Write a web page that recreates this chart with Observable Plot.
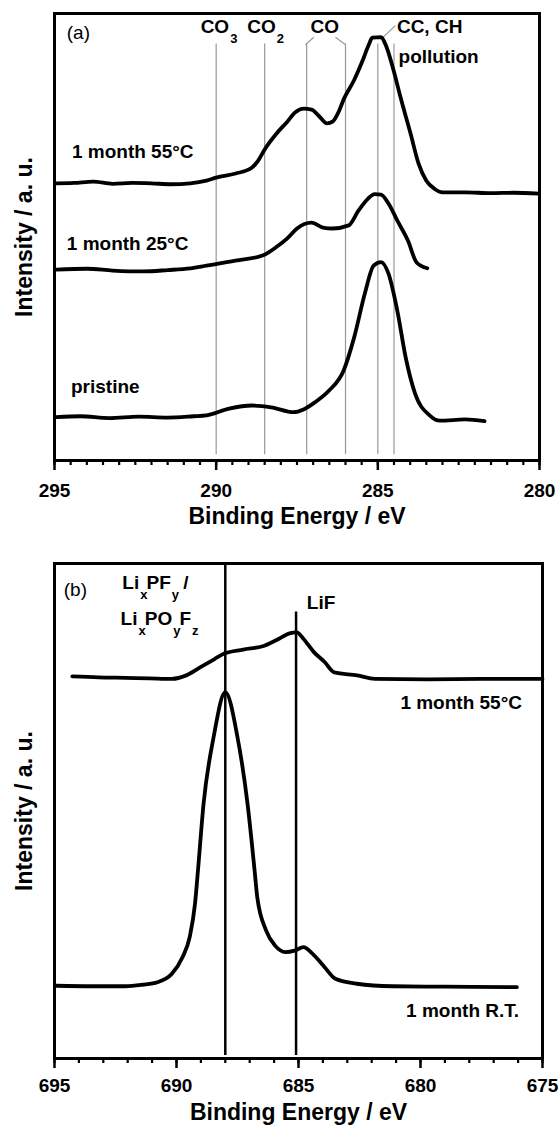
<!DOCTYPE html>
<html>
<head>
<meta charset="utf-8">
<script src="https://cdn.jsdelivr.net/npm/d3@7"></script>
<script src="https://cdn.jsdelivr.net/npm/@observablehq/plot@0.6"></script>
<style>
  html, body { margin: 0; padding: 0; background: #fff; }
  #chart svg { display: block; }
</style>
</head>
<body>
<div id="chart"></div>
<script>
// ---------- Panel (a): C 1s ----------
const c1s_55C = [[294.95,62.0],[294.4,62.1],[293.8,62.4],[293.2,61.9],[292.6,62.1],[292.0,62.0],[291.4,61.8],[290.8,62.0],[290.3,62.6],[290.0,63.3],[289.4,64.2],[288.9,65.5],[288.7,67.1],[288.5,69.6],[288.15,73.0],[287.8,75.8],[287.55,77.9],[287.3,78.7],[287.05,78.5],[286.8,76.9],[286.57,75.4],[286.4,75.8],[286.2,78.2],[286.05,80.9],[285.74,85.0],[285.48,89.3],[285.28,93.0],[285.17,94.6],[284.9,94.7],[284.77,93.2],[284.51,87.2],[284.3,81.3],[283.99,73.2],[283.74,66.4],[283.5,62.6],[283.25,60.8],[283.0,60.0],[282.3,60.0],[281.5,59.8],[280.8,59.9],[280.03,59.7]];
const c1s_25C = [[294.95,42.7],[294.0,42.9],[293.2,42.5],[292.25,42.3],[291.5,42.6],[290.8,43.0],[290.3,43.6],[289.4,44.7],[288.55,45.9],[288.15,47.7],[287.8,49.7],[287.5,51.9],[287.05,53.2],[286.7,52.1],[286.4,51.9],[285.9,52.6],[285.6,55.9],[285.3,58.6],[285.1,59.6],[284.9,59.5],[284.67,57.5],[284.4,53.7],[284.07,49.2],[283.8,44.3],[283.47,43.0]];
const c1s_pristine = [[294.95,9.7],[294.2,9.9],[293.3,9.5],[292.4,9.8],[291.5,9.6],[290.7,9.9],[290.3,10.1],[289.6,11.6],[288.9,12.3],[288.3,11.9],[287.6,10.8],[287.3,11.4],[286.95,13.0],[286.5,15.7],[286.06,20.1],[285.73,27.6],[285.4,37.4],[285.13,43.6],[284.9,44.4],[284.67,41.8],[284.4,33.6],[284.14,23.1],[283.85,15.0],[283.4,10.1],[283.08,8.9],[282.3,9.2],[281.7,8.8]];
const seriesNamesA = ["1 month 55°C", "1 month 25°C", "pristine"];
const seriesPtsA = [c1s_55C, c1s_25C, c1s_pristine];

const refLinesA = [290, 288.5, 287.2, 286.0, 285.0, 284.5];
const leadersA = [
  {x1: 287.24, y1: 93.0, x2: 286.98, y2: 94.7},
  {x1: 286.31, y1: 94.7, x2: 286.0, y2: 93.0},
  {x1: 284.85, y1: 94.6, x2: 284.46, y2: 97.3}
];
const peakLabelsA = ["CO_{3}", "CO_{2}", "CO", "CC, CH", "pollution"];
const peakLabelEA = [290.48, 289.04, 287.08, 284.41, 284.36];
const peakLabelIA = [95.7, 95.7, 95.7, 95.7, 89.0];
const seriesLabelEA = [294.46, 294.62, 294.49];
const seriesLabelIA = [67.6, 47.0, 15.0];
const majorTicksA = [295, 290, 285, 280];
const minorTicksA = d3.range(280, 295.001, 0.5);

// ---------- Panel (b): F 1s ----------
const f1s_55C = [[694.27,77.2],[693.2,77.0],[692.08,76.9],[691.1,76.8],[690.19,76.7],[689.6,77.4],[689.0,79.1],[688.44,80.7],[688.04,81.8],[687.27,82.6],[686.4,83.4],[685.8,84.8],[685.37,85.9],[685.07,86.1],[684.8,84.8],[684.37,82.1],[683.93,80.1],[683.53,78.0],[682.6,77.4],[681.87,76.7],[679.7,76.6],[677.5,76.7],[675.0,76.7]];
const f1s_RT = [[694.93,14.7],[693.5,14.6],[692.09,14.6],[691.4,14.9],[690.78,15.4],[690.19,17.1],[689.75,20.5],[689.46,24.5],[689.24,31.3],[689.12,38.0],[688.89,51.5],[688.48,64.9],[688.0,74.0],[687.5,64.9],[687.09,51.5],[686.8,38.0],[686.69,32.6],[686.33,25.9],[685.96,22.8],[685.53,21.5],[685.16,21.8],[684.8,22.5],[684.43,21.2],[683.92,18.4],[683.49,16.1],[682.61,15.1],[681.15,14.6],[679.0,14.5],[676.05,14.4]];
const seriesNamesB = ["1 month 55°C", "1 month R.T."];
const seriesPtsB = [f1s_55C, f1s_RT];

const refLinesB = [688.0, 685.1];
const refTopB = [100, 90.2];
const peakLabelsB = ["Li_{x}PF_{y} /", "Li_{x}PO_{y}F_{z}", "LiF"];
const peakLabelEB = [692.22, 692.29, 684.66];
const peakLabelIB = [94.9, 87.5, 90.9];
const seriesLabelEB = [675.84, 675.96];
const seriesLabelIB = [70.7, 8.3];
const majorTicksB = [695, 690, 685, 680, 675];
const minorTicksB = d3.range(675, 695.001, 1);

// ---------- helpers ----------
const FONT = "'Liberation Sans', Arial, Helvetica, sans-serif";
const toRows = (names, pts) => names.flatMap((s, i) => pts[i].map(([E, I]) => ({s, E, I})));
const labelRows = (texts, E, I) => texts.map((t, i) => ({t, E: E[i], I: I[i]}));

function applySubs(svg) {
  const NS = "http://www.w3.org/2000/svg";
  svg.querySelectorAll("text").forEach(t => {
    const s = t.textContent;
    if (!s.includes("_{")) return;
    t.textContent = "";
    const re = /_\{([^}]*)\}/g;
    let last = 0, m, inSub = false;
    const add = (str, sub) => {
      const ts = document.createElementNS(NS, "tspan");
      if (sub) { ts.setAttribute("dy", "10"); ts.setAttribute("font-size", "13"); ts.setAttribute("dx", "1"); }
      else if (inSub) { ts.setAttribute("dy", "-10"); ts.setAttribute("dx", "-1"); }
      ts.textContent = str;
      t.appendChild(ts);
      inSub = sub;
    };
    while ((m = re.exec(s))) {
      if (m.index > last) add(s.slice(last, m.index), false);
      add(m[1], true);
      last = re.lastIndex;
    }
    if (last < s.length) add(s.slice(last), false);
  });
}

function panel({height, marginTop, marginBottom, marginRight, xDomain, rows, minor, major, tickPadding, titleDy, marks}) {
  return Plot.plot({
    width: 560, height, marginLeft: 54, marginRight, marginTop, marginBottom,
    x: {domain: xDomain, axis: null},
    y: {domain: [0, 100], axis: null},
    style: {fontFamily: FONT, background: "#fff", color: "#000", overflow: "visible"},
    marks: [
      ...marks,
      Plot.line(rows, {x: "E", y: "I", z: "s", stroke: "#000", strokeWidth: 3.8, curve: "monotone-x", strokeLinejoin: "round", strokeLinecap: "round"}),
      Plot.frame({stroke: "#000", strokeWidth: 3}),
      Plot.axisX({ticks: minor, tickSize: 5, strokeWidth: 2.2, tickFormat: () => "", label: null}),
      Plot.axisX({ticks: major, tickSize: 10, strokeWidth: 2.5, tickPadding, tickFormat: d3.format("d"), fontSize: 19, fontWeight: "bold", label: null}),
      Plot.text(["Binding Energy / eV"], {frameAnchor: "bottom", dy: titleDy, lineAnchor: "bottom", fontSize: 23, fontWeight: "bold"}),
      Plot.text(["Intensity / a. u."], {frameAnchor: "left", textAnchor: "middle", rotate: -90, dx: -30, fontSize: 23, fontWeight: "bold"})
    ]
  });
}

const plotA = panel({
  height: 545, marginTop: 13, marginBottom: 85, marginRight: 21,
  xDomain: [295, 280], rows: toRows(seriesNamesA, seriesPtsA),
  minor: minorTicksA, major: majorTicksA, tickPadding: 13, titleDy: 63,
  marks: [
    Plot.ruleX(refLinesA, {y1: 1.3, y2: 93.2, stroke: "#999", strokeWidth: 1.2}),
    Plot.link(leadersA, {x1: "x1", y1: "y1", x2: "x2", y2: "y2", stroke: "#999", strokeWidth: 1.2}),
    Plot.text(labelRows(peakLabelsA, peakLabelEA, peakLabelIA), {x: "E", y: "I", text: "t", textAnchor: "start", lineAnchor: "bottom", fontSize: 19, fontWeight: "bold"}),
    Plot.text(labelRows(seriesNamesA, seriesLabelEA, seriesLabelIA), {x: "E", y: "I", text: "t", textAnchor: "start", lineAnchor: "bottom", fontSize: 19, fontWeight: "bold"}),
    Plot.text(["(a)"], {x: 294.62, y: 94.4, textAnchor: "start", lineAnchor: "bottom", fontSize: 19})
  ]
});

const plotB = panel({
  height: 582, marginTop: 18, marginBottom: 69, marginRight: 18,
  xDomain: [695, 675], rows: toRows(seriesNamesB, seriesPtsB),
  minor: minorTicksB, major: majorTicksB, tickPadding: 10, titleDy: 61,
  marks: [
    Plot.ruleX(refLinesB.map((E, i) => ({E, top: refTopB[i]})), {x: "E", y1: 0.6, y2: "top", stroke: "#000", strokeWidth: 2.5}),
    Plot.text(labelRows(peakLabelsB, peakLabelEB, peakLabelIB), {x: "E", y: "I", text: "t", textAnchor: "start", lineAnchor: "bottom", fontSize: 19, fontWeight: "bold"}),
    Plot.text(labelRows(seriesNamesB, seriesLabelEB, seriesLabelIB), {x: "E", y: "I", text: "t", textAnchor: "end", lineAnchor: "bottom", fontSize: 19, fontWeight: "bold"}),
    Plot.text(["(b)"], {x: 694.62, y: 93.5, textAnchor: "start", lineAnchor: "bottom", fontSize: 19})
  ]
});

applySubs(plotA);
applySubs(plotB);
document.getElementById("chart").append(plotA, plotB);
</script>
</body>
</html>
